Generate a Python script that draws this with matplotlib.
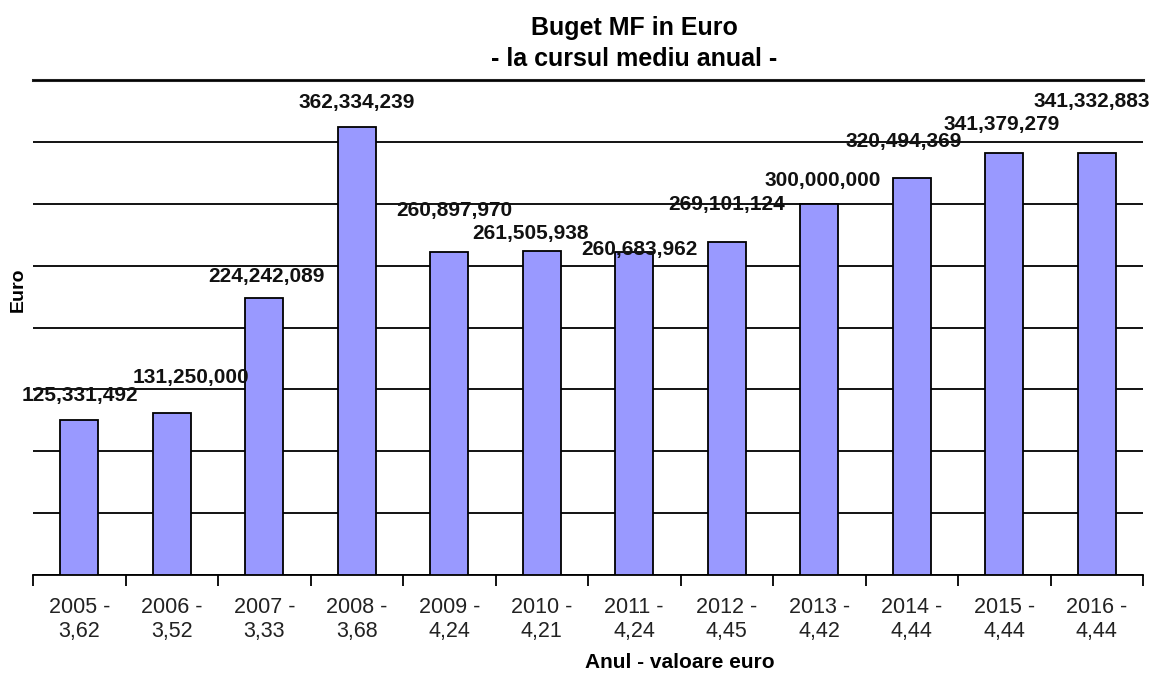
import matplotlib.pyplot as plt
import numpy as np

plt.rcParams['font.family'] = ['Liberation Sans', 'DejaVu Sans']

years = ['2005', '2006', '2007', '2008', '2009', '2010',
         '2011', '2012', '2013', '2014', '2015', '2016']
rates = ['3,62', '3,52', '3,33', '3,68', '4,24', '4,21',
         '4,24', '4,45', '4,42', '4,44', '4,44', '4,44']
budget = [125331492, 131250000, 224242089, 362334239, 260897970, 261505938,
          260683962, 269101124, 300000000, 320494369, 341379279, 341332883]

# label offsets in pixels (dx, dy above bar top), excel placed them unevenly
lab_dx = [1, 19, 2, 0, 5, -11, 5, 0, 3, -8, -3, -5]
lab_dy = [15, 26, 12, 15, 32, 8, -7, 28, 14, 27, 19, 42]

fig = plt.figure(figsize=(11.53, 6.74), dpi=100)
ax = fig.add_axes([33 / 1153, 1 - 575 / 674, 1110 / 1153, 495 / 674])

x = np.arange(len(years))
ax.bar(x, budget, width=0.41, color='#9999FF', edgecolor='black', linewidth=1.3, zorder=3)

ax.set_xlim(-0.5, len(years) - 0.5)
ax.set_ylim(0, 400e6)
ax.set_yticks(np.arange(0, 400e6 + 1, 50e6))
ax.yaxis.grid(True, color='black', linewidth=1.3, zorder=0)
ax.axhline(400e6, color='#222222', linewidth=2.2, clip_on=False, zorder=1)
ax.tick_params(axis='y', length=0, labelleft=False)

ax.set_xticks(x)
ax.set_xticklabels([y + ' -\n' + r for y, r in zip(years, rates)], fontsize=15.5, color='#222222')
ax.tick_params(axis='x', which='major', length=0, pad=16)
ax.set_xticks(np.arange(-0.5, len(years)), minor=True)
ax.tick_params(axis='x', which='minor', length=8, width=1.3, direction='out')

for s in ['left', 'right', 'top']:
    ax.spines[s].set_visible(False)
ax.spines['bottom'].set_linewidth(1.3)

for i, v in enumerate(budget):
    ax.annotate(f'{v:,}', (x[i], v), xytext=(lab_dx[i] * 0.72, lab_dy[i] * 0.72),
                textcoords='offset points', ha='center', va='bottom',
                fontsize=15, fontweight='bold', color='#111111', zorder=4)

fig.text(634 / 1153, 1 - 28 / 674, 'Buget MF in Euro', ha='center', va='center',
         fontsize=18, fontweight='bold')
fig.text(634 / 1153, 1 - 59 / 674, '- la cursul mediu anual -', ha='center', va='center',
         fontsize=18, fontweight='bold')
fig.text(680 / 1153, 1 - 663 / 674, 'Anul - valoare euro', ha='center', va='center',
         fontsize=15, fontweight='bold')
fig.text(18 / 1153, 1 - 290 / 674, 'Euro', ha='center', va='center', rotation=90,
         fontsize=14, fontweight='bold')

plt.savefig('out.png', dpi=100)
